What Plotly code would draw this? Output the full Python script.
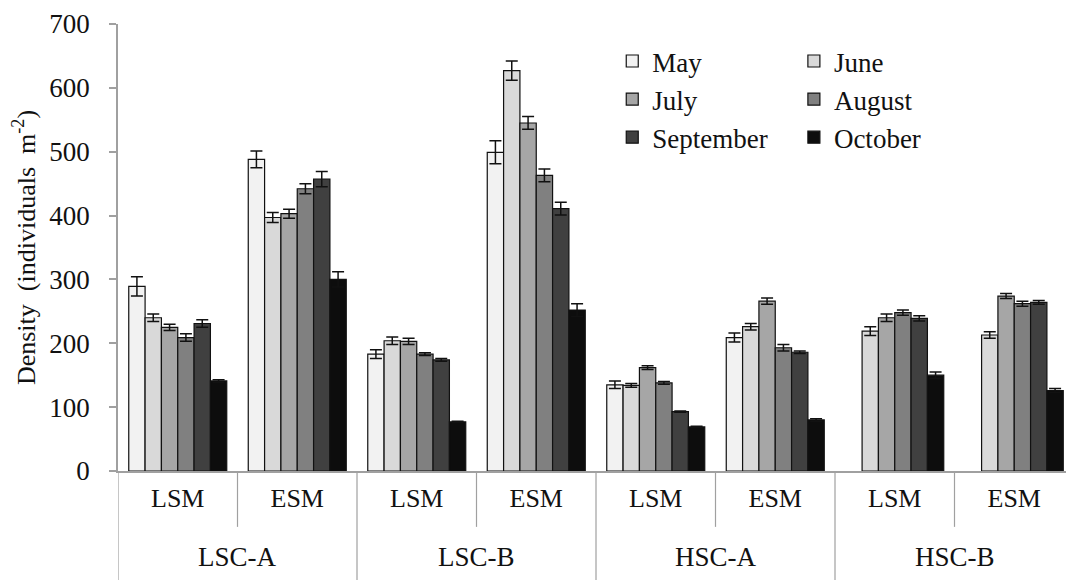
import plotly.graph_objects as go

sites = ["LSC-A", "LSC-A", "LSC-B", "LSC-B", "HSC-A", "HSC-A", "HSC-B", "HSC-B"]
marshes = ["LSM", "ESM", "LSM", "ESM", "LSM", "ESM", "LSM", "ESM"]

months = ["May", "June", "July", "August", "September", "October"]
colors = ["#F2F2F2", "#D9D9D9", "#A6A6A6", "#808080", "#404040", "#0D0D0D"]

may = [289, 488, 183, 499, 135, 209, None, None]
june = [240, 397, 204, 627, 134, 226, 219, 213]
july = [225, 403, 203, 545, 162, 266, 240, 274]
august = [209, 442, 183, 463, 138, 193, 248, 262]
september = [231, 457, 174, 411, 93, 186, 239, 264]
october = [141, 300, 77, 252, 69, 80, 150, 126]

may_err = [15, 13, 7, 18, 6, 7, 0, 0]
june_err = [6, 8, 6, 15, 3, 5, 7, 5]
july_err = [5, 7, 5, 10, 3, 5, 6, 4]
august_err = [6, 8, 2, 10, 2, 5, 4, 4]
september_err = [6, 12, 2, 10, 1, 2, 4, 3]
october_err = [2, 12, 1, 10, 1, 2, 5, 3]

values = [may, june, july, august, september, october]
errors = [may_err, june_err, july_err, august_err, september_err, october_err]

FONT = "Times New Roman"
AXIS_GRAY = "#A0A0A0"
TXT = "#111111"

idx = list(range(len(marshes)))

fig = go.Figure()
for i, (m, c, v, e) in enumerate(zip(months, colors, values, errors)):
    fig.add_trace(go.Bar(
        x=idx, y=v, name=m,
        marker=dict(color=c, line=dict(color=TXT, width=1.2)),
        error_y=dict(type="data", array=e, visible=True, color=TXT,
                     thickness=1.5, width=6),
        legend="legend" if i % 2 == 0 else "legend2",
    ))

shapes = []
annotations = []
# dividers: short ones between marsh types, long ones between sites
for i in range(len(sites)):
    left = sites[i - 1] if i > 0 else None
    y1 = -0.125 if left == sites[i] else -0.27
    shapes.append(dict(type="line", xref="x", yref="paper",
                       x0=i - 0.5, x1=i - 0.5, y0=0, y1=y1,
                       line=dict(color=AXIS_GRAY, width=1.2)))

seen = []
for s in sites:
    if s not in seen:
        seen.append(s)
for s in seen:
    pos = [i for i, v in enumerate(sites) if v == s]
    annotations.append(dict(text=s, xref="x", yref="paper",
                            x=sum(pos) / len(pos), y=-0.192,
                            xanchor="center", yanchor="middle", showarrow=False,
                            font=dict(family=FONT, size=27, color=TXT)))

legend_common = dict(
    font=dict(family=FONT, size=27, color=TXT),
    bgcolor="rgba(0,0,0,0)", orientation="v",
    xanchor="left", yanchor="top", y=0.971,
    itemclick=False, itemdoubleclick=False,
)

# page body has an 8px margin: compensate so the plot area lands where the reference has it
fig.update_layout(
    width=1074, height=580,
    margin=dict(l=110, r=8, t=16, b=117, autoexpand=False),
    paper_bgcolor="white", plot_bgcolor="white",
    barmode="group", bargap=0.18, bargroupgap=0,
    font=dict(family=FONT, size=26, color=TXT),
    showlegend=True,
    legend=dict(x=0.517, **legend_common),
    legend2=dict(x=0.707, **legend_common),
    shapes=shapes,
    annotations=annotations,
    xaxis=dict(
        range=[-0.5, len(marshes) - 0.5], tickmode="array", tickvals=idx,
        ticktext=marshes, showline=True, linecolor=AXIS_GRAY, linewidth=1.5,
        ticks="", showgrid=False, zeroline=False, automargin=False,
        ticklabelstandoff=3,
        tickfont=dict(family=FONT, size=26, color=TXT),
    ),
    yaxis=dict(
        range=[0, 700], dtick=100, tick0=0, showgrid=False, zeroline=False,
        showline=True, linecolor=AXIS_GRAY, linewidth=1.5, automargin=False,
        ticks="outside", ticklen=7, tickcolor=AXIS_GRAY, tickwidth=1.5,
        ticklabelstandoff=14,
        tickfont=dict(family=FONT, size=27, color=TXT),
        title=dict(text="Density\u00a0\u00a0(individuals\u00a0\u00a0m<sup>-2</sup>)",
                   font=dict(family=FONT, size=26, color=TXT), standoff=16),
    ),
)

fig.write_html("out.html")
